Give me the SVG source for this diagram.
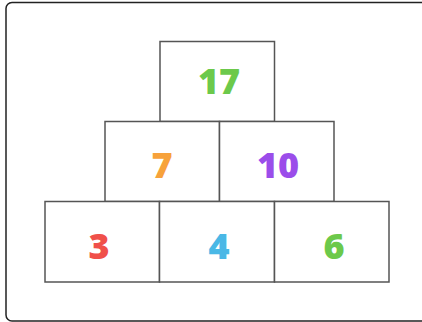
<svg xmlns="http://www.w3.org/2000/svg" width="422" height="322" viewBox="0 0 422 322">
<style>
.box{fill:#fff;stroke:#555;stroke-width:1.5}
.t{font-family:"Open Sans","Liberation Sans",sans-serif;font-weight:800;font-size:36px;text-anchor:middle}
</style>
<rect x="0" y="0" width="422" height="322" fill="#fff"/>
<rect x="6" y="2.5" width="432" height="318.5" rx="6" fill="#fff" stroke="#222" stroke-width="1.5"/>
<g id="n17"><rect class="box" x="160" y="41.5" width="114.5" height="80"/><text class="t" x="219" y="94" fill="#6cc94b">17</text></g>
<g id="n7"><rect class="box" x="105" y="121.5" width="114.5" height="80"/><text class="t" x="162" y="178" fill="#f7a23b">7</text></g>
<g id="n10"><rect class="box" x="219.5" y="121.5" width="114.5" height="80"/><text class="t" x="278" y="178" fill="#9b4dea">10</text></g>
<g id="n3"><rect class="box" x="45" y="201.5" width="114.5" height="80.5"/><text class="t" x="99" y="259" fill="#f0504a">3</text></g>
<g id="n4"><rect class="box" x="159.5" y="201.5" width="115" height="80.5"/><text class="t" x="219" y="259" fill="#4ab8e6">4</text></g>
<g id="n6"><rect class="box" x="274.5" y="201.5" width="114.5" height="80.5"/><text class="t" x="334" y="259" fill="#6cc94b">6</text></g>
<g id="connectors"/>
</svg>
